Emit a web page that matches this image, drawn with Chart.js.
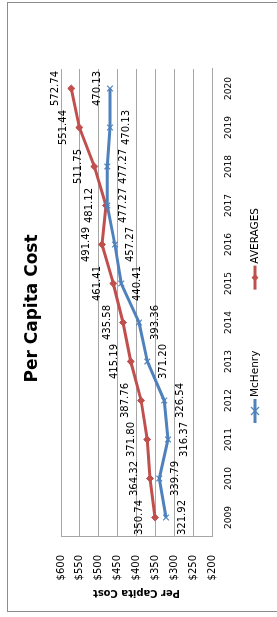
<!DOCTYPE html>
<html>
<head>
<meta charset="utf-8">
<script src="https://cdn.jsdelivr.net/npm/chart.js"></script>
<style>
html, body { margin: 0; padding: 0; background: #fff; overflow: hidden; }
#wrap {
    position: absolute; left: 0; top: 0;
    width: 617px; height: 277px;
    transform-origin: 0 0;
    transform: translateY(617px) rotate(-90deg);
}
</style>
</head>
<body>
<div id="wrap"><canvas id="graficaCosto" width="617" height="277"></canvas></div>
<script>
const anios = ['2009', '2010', '2011', '2012', '2013', '2014', '2015', '2016', '2017', '2018', '2019', '2020'];
const mchenry = [321.92, 339.79, 316.37, 326.54, 371.20, 393.36, 440.41, 457.27, 477.27, 477.27, 470.13, 470.13];
const promedios = [350.74, 364.32, 371.80, 387.76, 415.19, 435.58, 461.41, 491.49, 481.12, 511.75, 551.44, 572.74];
const ticksValor = [200, 250, 300, 350, 400, 450, 500, 550, 600];

const FUENTE = '"DejaVu Sans", sans-serif';
const AZUL = '#4f81bd';
const ROJO = '#c0504d';
const GRIS = '#a6a6a6';

// distancia de la etiqueta al punto (negativo = arriba)
function desplazamiento(serie, j) {
    if (serie === 0) return j === anios.length - 1 ? -13 : 16;
    return -16;
}

function marcador(c, estilo, x, y, r, color) {
    c.save();
    c.strokeStyle = color;
    c.fillStyle = color;
    c.lineWidth = 1.2;
    c.beginPath();
    if (estilo === 'crossRot') {
        c.moveTo(x - r, y - r); c.lineTo(x + r, y + r);
        c.moveTo(x - r, y + r); c.lineTo(x + r, y - r);
        c.stroke();
    } else {
        c.moveTo(x, y - r); c.lineTo(x + r, y); c.lineTo(x, y + r); c.lineTo(x - r, y);
        c.closePath();
        c.fill();
    }
    c.restore();
}

const fondo = {
    id: 'fondo',
    beforeDraw(chart) {
        const c = chart.ctx;
        c.save();
        c.fillStyle = '#fff';
        c.fillRect(0, 0, chart.width, chart.height);
        c.strokeStyle = '#8c8c8c';
        c.lineWidth = 1;
        c.strokeRect(5.5, 7.5, 609, 400);
        c.restore();
    }
};

const etiquetas = {
    id: 'etiquetas',
    afterDatasetsDraw(chart) {
        const c = chart.ctx;
        c.save();
        c.font = '10px ' + FUENTE;
        c.fillStyle = '#000';
        c.textAlign = 'center';
        c.textBaseline = 'middle';
        chart.data.datasets.forEach((ds, i) => {
            chart.getDatasetMeta(i).data.forEach((pt, j) => {
                c.fillText(ds.data[j].toFixed(2), pt.x, pt.y + desplazamiento(i, j));
            });
        });
        c.restore();
    }
};

const leyenda = {
    id: 'leyenda',
    afterDraw(chart) {
        const c = chart.ctx;
        const y = 255;
        let x = 194;
        c.save();
        c.font = '10.5px ' + FUENTE;
        c.textBaseline = 'middle';
        c.textAlign = 'left';
        chart.data.datasets.forEach(ds => {
            c.strokeStyle = ds.borderColor;
            c.lineWidth = 3;
            c.beginPath();
            c.moveTo(x, y);
            c.lineTo(x + 24, y);
            c.stroke();
            marcador(c, ds.pointStyle, x + 12, y, ds.pointRadius, ds.borderColor);
            c.fillStyle = '#000';
            c.fillText(ds.label, x + 26, y);
            x += 26 + c.measureText(ds.label).width + 61;
        });
        c.restore();
    }
};

const ctx = document.getElementById('graficaCosto').getContext('2d');
const graficaCosto = new Chart(ctx, {
    type: 'line',
    data: {
        labels: anios,
        datasets: [{
            label: 'McHenry',
            data: mchenry,
            borderColor: AZUL,
            backgroundColor: AZUL,
            borderWidth: 3,
            pointStyle: 'crossRot',
            pointRadius: 4,
            pointBorderWidth: 1.2,
            tension: 0
        }, {
            label: 'AVERAGES',
            data: promedios,
            borderColor: ROJO,
            backgroundColor: ROJO,
            borderWidth: 3,
            pointStyle: 'rectRot',
            pointRadius: 3.5,
            pointBorderWidth: 1,
            tension: 0
        }]
    },
    options: {
        responsive: false,
        animation: false,
        devicePixelRatio: 1,
        layout: { padding: { top: 10, left: 0, right: 0, bottom: 0 } },
        plugins: {
            legend: { display: false },
            tooltip: { enabled: false },
            title: {
                display: true,
                text: 'Per Capita Cost',
                color: '#000',
                font: { family: FUENTE, size: 17, weight: 'bold' },
                padding: { top: 12, bottom: 18.6 }
            }
        },
        scales: {
            x: {
                type: 'category',
                offset: true,
                grid: { display: false, drawTicks: false },
                border: { display: true, color: GRIS, width: 1 },
                ticks: {
                    color: '#000',
                    font: { family: FUENTE, size: 9 },
                    padding: 11,
                    maxRotation: 0,
                    autoSkip: false
                },
                afterFit(scale) { scale.height = 65; }
            },
            y: {
                min: 200,
                max: 600,
                grid: { color: GRIS, lineWidth: 1, drawTicks: false },
                border: { display: true, color: GRIS, width: 1 },
                afterBuildTicks(scale) {
                    scale.ticks = ticksValor.map(v => ({ value: v }));
                },
                ticks: {
                    color: '#000',
                    font: { family: FUENTE, size: 10 },
                    padding: 18,
                    callback: v => '$' + v
                },
                title: {
                    display: true,
                    text: 'Per Capita Cost',
                    color: '#000',
                    font: { family: FUENTE, size: 10, weight: 'bold' },
                    padding: { top: 18, bottom: 0 }
                },
                afterFit(scale) { scale.width = 80; }
            },
            derecha: {
                position: 'right',
                display: true,
                grid: { display: false },
                border: { display: false },
                ticks: { display: false },
                afterFit(scale) { scale.width = 69; }
            }
        }
    },
    plugins: [fondo, etiquetas, leyenda]
});
</script>
</body>
</html>
